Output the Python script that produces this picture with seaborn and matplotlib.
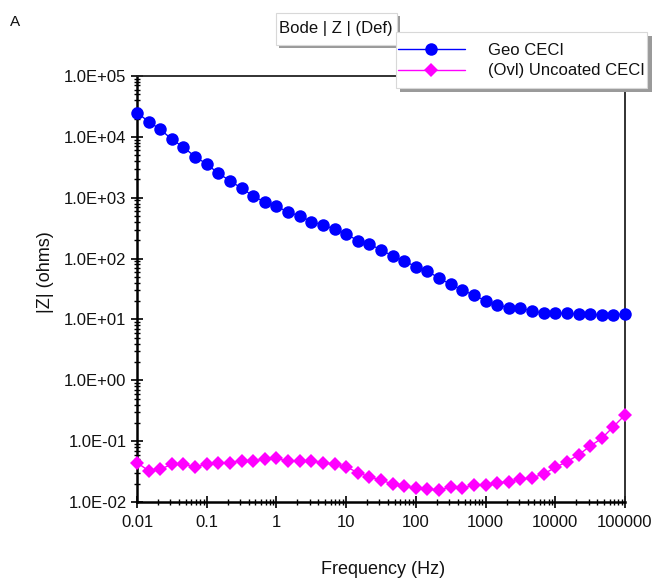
import matplotlib
matplotlib.use("Agg")
import matplotlib.pyplot as plt
import seaborn as sns
import pandas as pd
from matplotlib.patches import Rectangle
from matplotlib.ticker import FixedLocator, NullFormatter, LogLocator

# ---------------- data ----------------
freq_hz = [0.01, 0.01468, 0.02154, 0.03162, 0.04642, 0.06813,
           0.1, 0.1468, 0.2154, 0.3162, 0.4642, 0.6813,
           1, 1.468, 2.154, 3.162, 4.642, 6.813,
           10, 14.68, 21.54, 31.62, 46.42, 68.13,
           100, 146.8, 215.4, 316.2, 464.2, 681.3,
           1000, 1468, 2154, 3162, 4642, 6813,
           10000, 14680, 21540, 31620, 46420, 68130,
           100000]

geo_ceci = [25000, 17800, 13300, 9120, 6760, 4720,
            3580, 2510, 1905, 1430, 1070, 841,
            731, 575, 507, 404, 356, 306,
            254, 197, 174, 138, 111, 91.2,
            73.6, 62.5, 47.4, 37.8, 30.5, 24.9,
            20.3, 17.3, 15.6, 15.2, 13.9, 12.6,
            12.6, 12.6, 12.2, 12.2, 11.8, 11.8,
            12.3]

uncoated_ceci = [0.0443, 0.0327, 0.0345, 0.0417, 0.0417, 0.0380,
                 0.0417, 0.0443, 0.0443, 0.0478, 0.0478, 0.0500,
                 0.0520, 0.0470, 0.0470, 0.0470, 0.0443, 0.0417,
                 0.0380, 0.0303, 0.0260, 0.0228, 0.0198, 0.0183,
                 0.0168, 0.0162, 0.0158, 0.0175, 0.0168, 0.0190,
                 0.0190, 0.0207, 0.0216, 0.0236, 0.0250, 0.0288,
                 0.0370, 0.0460, 0.0593, 0.0830, 0.1110, 0.1730,
                 0.2690]

series_names = ["Geo CECI", "(Ovl) Uncoated CECI"]
x_ticks = [0.01, 0.1, 1, 10, 100, 1000, 10000, 100000]
x_tick_labels = ["0.01", "0.1", "1", "10", "100", "1000", "10000", "100000"]
y_ticks = [1e-2, 1e-1, 1e0, 1e1, 1e2, 1e3, 1e4, 1e5]
y_tick_labels = ["1.0E-02", "1.0E-01", "1.0E+00", "1.0E+01",
                 "1.0E+02", "1.0E+03", "1.0E+04", "1.0E+05"]

df_geo = pd.DataFrame({"freq": freq_hz, "Z": geo_ceci})
df_unc = pd.DataFrame({"freq": freq_hz, "Z": uncoated_ceci})

# ---------------- figure ----------------
sns.set_style("white")
plt.rcParams["font.family"] = ["Liberation Sans", "DejaVu Sans"]

W, H = 652, 583
fig = plt.figure(figsize=(W / 100, H / 100), dpi=100)

def fx(x):
    return x / W

def fy(y):
    return 1 - y / H

ax = fig.add_axes([fx(137), fy(502), fx(625) - fx(137), fy(76) - fy(502)])

sns.lineplot(data=df_geo, x="freq", y="Z", ax=ax, color="#0000ff",
             marker="o", markersize=9, markeredgewidth=0, linewidth=1,
             label=series_names[0], clip_on=False, zorder=3)
sns.lineplot(data=df_unc, x="freq", y="Z", ax=ax, color="#ff00ff",
             marker="D", markersize=7, markeredgewidth=0, linewidth=1,
             label=series_names[1], clip_on=False, zorder=3)

ax.set_xscale("log")
ax.set_yscale("log")
ax.set_xlim(0.01, 100000)
ax.set_ylim(1e-2, 1e5)

ax.xaxis.set_major_locator(FixedLocator(x_ticks))
ax.set_xticklabels(x_tick_labels)
ax.yaxis.set_major_locator(FixedLocator(y_ticks))
ax.set_yticklabels(y_tick_labels)
ax.xaxis.set_minor_locator(LogLocator(base=10, subs=range(2, 10), numticks=20))
ax.yaxis.set_minor_locator(LogLocator(base=10, subs=range(2, 10), numticks=20))
ax.xaxis.set_minor_formatter(NullFormatter())
ax.yaxis.set_minor_formatter(NullFormatter())

ax.tick_params(which="major", direction="inout", length=9, width=1.2,
               color="black", labelsize=12, labelcolor="#111111")
ax.tick_params(which="minor", direction="inout", length=5, width=1,
               color="black")
ax.tick_params(axis="x", which="major", pad=5)
ax.tick_params(axis="y", which="major", pad=3)
ax.tick_params(left=True, bottom=True, which="both")

for side in ["left", "bottom"]:
    ax.spines[side].set_linewidth(1.8)
    ax.spines[side].set_color("black")
for side in ["top", "right"]:
    ax.spines[side].set_linewidth(1.3)
    ax.spines[side].set_color("#222222")

ax.set_xlabel("")
ax.set_ylabel("")
fig.text(fx(383), fy(570), "Frequency (Hz)", ha="center", va="center",
         fontsize=13, color="#111111")
fig.text(fx(45), fy(272), "|Z| (ohms)", ha="center", va="center",
         rotation=90, fontsize=13, color="#111111")
fig.text(fx(10), fy(22), "A", ha="left", va="center", fontsize=11,
         color="#111111")

# title box "Bode | Z | (Def)"
fig.patches.append(Rectangle((fx(279), fy(48)), fx(121), fy(0) - fy(32),
                             transform=fig.transFigure, facecolor="#9a9a9a",
                             edgecolor="none", zorder=5))
fig.patches.append(Rectangle((fx(276), fy(45)), fx(121), fy(0) - fy(32),
                             transform=fig.transFigure, facecolor="white",
                             edgecolor="#d8d8d8", linewidth=0.8, zorder=6))
fig.text(fx(279), fy(29), "Bode | Z | (Def)", ha="left", va="center",
         fontsize=12, color="#111111", zorder=7)

# legend box
fig.patches.append(Rectangle((fx(400), fy(92)), fx(252), fy(0) - fy(56),
                             transform=fig.transFigure, facecolor="#9a9a9a",
                             edgecolor="none", zorder=5))
fig.patches.append(Rectangle((fx(396), fy(88)), fx(251), fy(0) - fy(56),
                             transform=fig.transFigure, facecolor="white",
                             edgecolor="#d8d8d8", linewidth=0.8, zorder=6))

handles, labels = ax.get_legend_handles_labels()
if ax.legend_:
    ax.legend_.remove()
leg = fig.legend(handles, labels, loc="center left",
                 bbox_to_anchor=(fx(398), fy(60.5)),
                 bbox_transform=fig.transFigure, frameon=False,
                 fontsize=12, handlelength=4.0, handletextpad=1.4,
                 labelspacing=0.35, borderpad=0, borderaxespad=0)
leg.set_zorder(8)
for t in leg.get_texts():
    t.set_color("#111111")

fig.savefig("out.png", dpi=100, facecolor="white")
